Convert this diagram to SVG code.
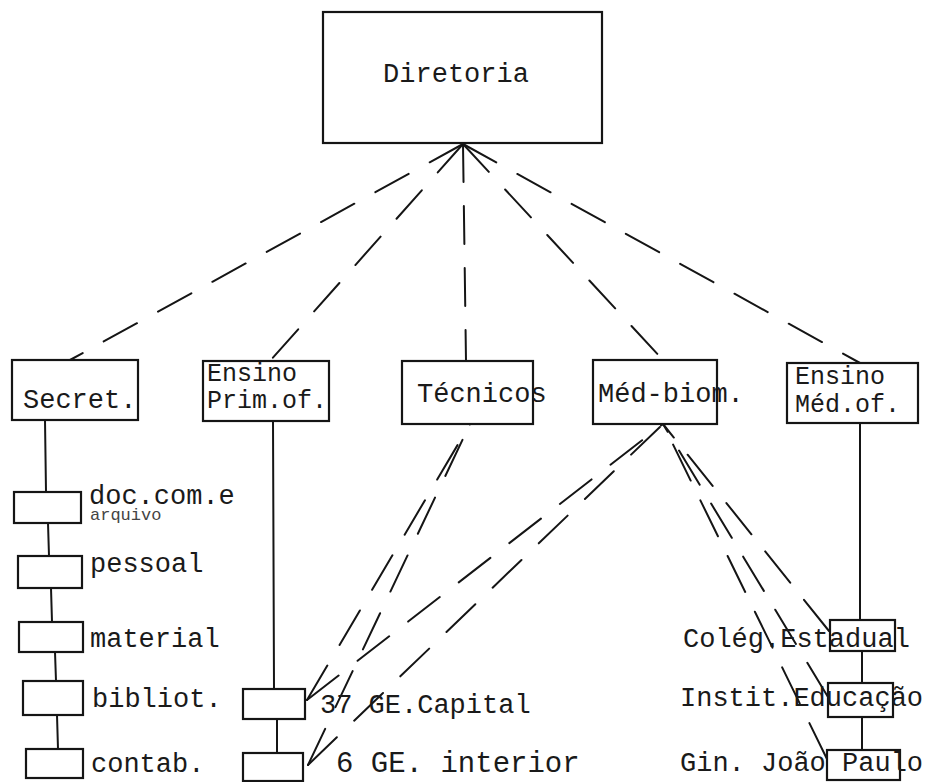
<svg xmlns="http://www.w3.org/2000/svg" width="929" height="782" viewBox="0 0 929 782">
<style>
.box{fill:none;stroke:#151515;stroke-width:2.2}
.ln{fill:none;stroke:#151515;stroke-width:2;stroke-linecap:round}
.fan{stroke-dasharray:38 24}
.dd{stroke-dasharray:40 24}
.rr{stroke-dasharray:40 22}
text{font-family:"Liberation Mono","Courier New",monospace;font-size:27px;fill:#1a1a1a}
.two{font-size:25px}
.small{font-size:17px;fill:#444}
</style>
<rect width="929" height="782" fill="#ffffff"/>
<g id="connectors">
  <path class="ln fan" d="M463,144 L70,360"/>
  <path class="ln fan" d="M463,144 L270,361"/>
  <path class="ln fan" d="M463,144 L466,361"/>
  <path class="ln fan" d="M463,144 L663,360"/>
  <path class="ln fan" d="M463,144 L860,363"/>
  <path class="ln" d="M45,420 L46,492 M48,523 L49,556 M51,588 L52,622 M55,652 L56,681 M57,715 L58,749"/>
  <path class="ln" d="M273,421 L274,689 M277,719 L277,753"/>
  <path class="ln" d="M860,423 L860,620 M862,651 L862,683 M862,717 L862,750"/>
  <path class="ln dd" d="M307,700 L470,424"/>
  <path class="ln dd" d="M308,765 L470,424"/>
  <path class="ln dd" d="M307,700 L663,424"/>
  <path class="ln dd" d="M308,765 L663,424"/>
  <path class="ln rr" d="M829,631 L663,424"/>
  <path class="ln rr" d="M828,697 L663,424"/>
  <path class="ln rr" d="M827,759 L663,424"/>
</g>
<g id="diretoria">
  <rect class="box" x="323" y="12" width="279" height="131"/>
  <text x="456" y="82" text-anchor="middle">Diretoria</text>
</g>
<g id="secret">
  <rect class="box" x="12" y="360" width="126" height="60"/>
  <text x="23" y="408">Secret.</text>
</g>
<g id="ensino-prim">
  <rect class="box" x="203" y="361" width="126" height="60"/>
  <text class="two" x="207" y="381">Ensino</text>
  <text class="two" x="207" y="408">Prim.of.</text>
</g>
<g id="tecnicos">
  <rect class="box" x="402" y="361" width="131" height="63"/>
  <text x="417" y="402">Técnicos</text>
</g>
<g id="med-biom">
  <rect class="box" x="593" y="360" width="124" height="64"/>
  <text x="598" y="402">Méd-biom.</text>
</g>
<g id="ensino-med">
  <rect class="box" x="787" y="363" width="131" height="60"/>
  <text class="two" x="795" y="384">Ensino</text>
  <text class="two" x="795" y="412">Méd.of.</text>
</g>
<g id="doc">
  <rect class="box" x="14" y="492" width="67" height="31"/>
  <text x="89" y="504">doc.com.e</text>
  <text class="small" x="90" y="520">arquivo</text>
</g>
<g id="pessoal">
  <rect class="box" x="18" y="556" width="64" height="32"/>
  <text x="90" y="572">pessoal</text>
</g>
<g id="material">
  <rect class="box" x="19" y="622" width="64" height="30"/>
  <text x="90" y="647">material</text>
</g>
<g id="bibliot">
  <rect class="box" x="23" y="681" width="60" height="34"/>
  <text x="92" y="707">bibliot.</text>
</g>
<g id="contab">
  <rect class="box" x="26" y="749" width="57" height="29"/>
  <text x="91" y="772">contab.</text>
</g>
<g id="ge-capital">
  <rect class="box" x="243" y="689" width="62" height="30"/>
  <text x="320" y="713">37 GE.Capital</text>
</g>
<g id="ge-interior">
  <rect class="box" x="243" y="753" width="60" height="28"/>
  <text x="336" y="772" style="font-size:29px">6 GE. interior</text>
</g>
<g id="colegio-estadual">
  <rect class="box" x="830" y="620" width="65" height="31"/>
  <text x="683" y="647">Colég.Estadual</text>
</g>
<g id="instituto-educacao">
  <rect class="box" x="828" y="683" width="65" height="34"/>
  <text x="680" y="706">Instit.Educação</text>
</g>
<g id="ginasio-joao-paulo">
  <rect class="box" x="827" y="750" width="73" height="30"/>
  <text x="680" y="771">Gin. João Paulo</text>
</g>
</svg>
